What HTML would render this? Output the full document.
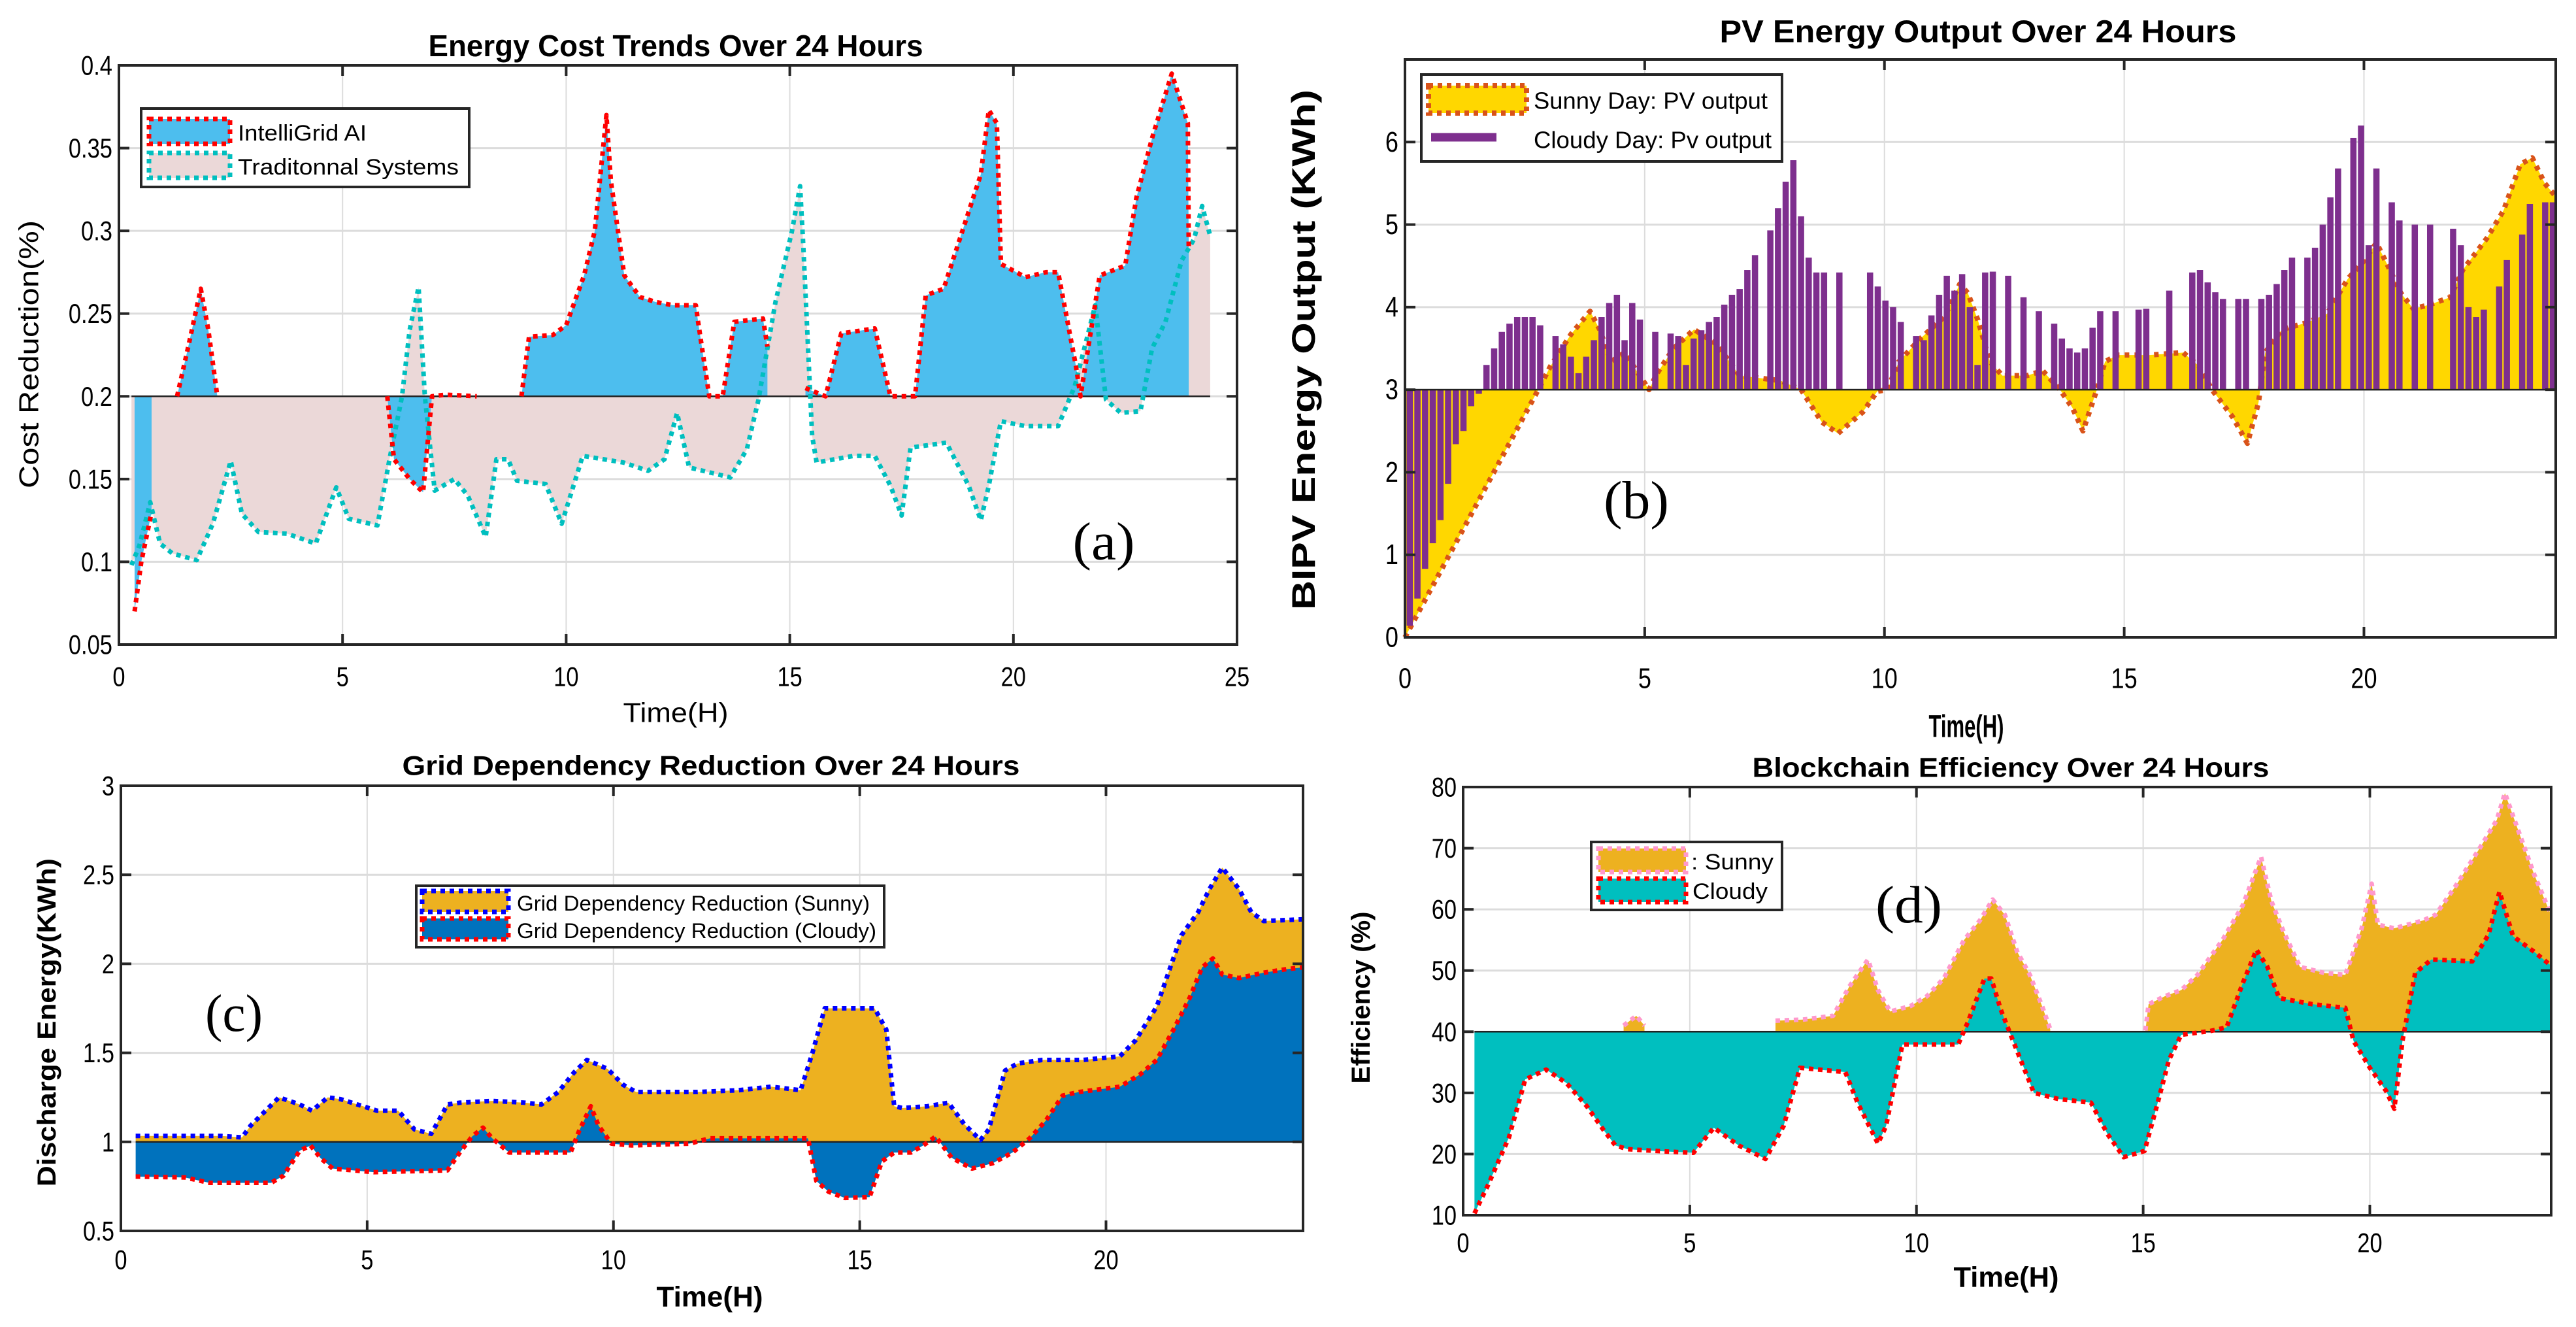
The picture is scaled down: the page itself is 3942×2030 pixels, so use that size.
<!DOCTYPE html>
<html><head><meta charset="utf-8"><style>
html,body{margin:0;padding:0;background:#fff;}
svg{display:block;}
</style></head><body>
<svg id="chart" xmlns="http://www.w3.org/2000/svg" width="3942" height="2030" viewBox="0 0 3942 2030"></svg>
<script>
// ---------- Panel (a) data (null = gap) ----------
const aiX = [0.35,0.5,0.73,1.0,1.3,1.55,1.83,2.0,2.2,4,6.0,6.15,6.5,6.8,7.0,7.3,8.0,8.5,9.0,9.17,9.7,10.0,10.4,10.64,10.9,11.0,11.3,11.65,12.0,12.4,12.9,12.95,13.2,13.5,13.76,14.4,14.5,15.0,15.35,15.8,16.15,16.9,17.25,17.8,18.04,18.44,18.8,19.27,19.45,19.63,19.72,20.27,20.73,21.0,21.4,21.5,21.93,22.5,22.75,23.1,23.54,23.9,23.92];
const aiY = [0.07,0.1,0.13,null,0.2,0.23,0.265,0.24,0.2,null,0.2,0.162,0.15,0.142,0.2,0.201,0.2,null,0.2,0.236,0.237,0.243,0.273,0.30,0.37,0.33,0.273,0.26,0.257,0.255,0.255,0.245,0.2,0.2,0.245,0.247,0.23,null,0.205,0.2,0.238,0.241,0.2,0.2,0.261,0.265,0.295,0.334,0.373,0.365,0.28,0.272,0.275,0.275,0.218,0.2,0.273,0.279,0.32,0.356,0.395,0.365,0.29];
const tradX = [0.28,0.46,0.7,0.92,1.2,1.74,2.1,2.5,2.75,3.12,3.76,4.4,4.86,5.14,5.78,6.05,6.33,6.5,6.7,6.84,7.06,7.5,7.8,8.2,8.44,8.7,8.9,9.54,9.9,10.37,11.28,11.83,12.2,12.48,12.75,13.67,14.04,14.3,14.68,15.05,15.23,15.3,15.5,15.6,16.42,16.9,17.25,17.5,17.7,18.5,19.0,19.27,19.45,19.72,20.27,21.0,21.37,21.83,22.07,22.4,22.84,23.1,23.4,23.76,24.04,24.22,24.4];
const tradY = [0.098,0.11,0.136,0.111,0.105,0.101,0.123,0.161,0.129,0.118,0.117,0.111,0.145,0.126,0.122,0.162,0.2,0.24,0.266,0.2,0.143,0.15,0.14,0.115,0.162,0.162,0.149,0.147,0.123,0.164,0.16,0.155,0.162,0.19,0.157,0.151,0.168,0.198,0.257,0.30,0.327,0.292,0.176,0.16,0.164,0.164,0.146,0.128,0.169,0.172,0.146,0.125,0.146,0.185,0.182,0.182,0.206,0.255,0.198,0.19,0.191,0.229,0.245,0.282,0.295,0.315,0.297];
const aYTicks = [0.05,0.1,0.15,0.2,0.25,0.3,0.35,0.4];
const aYLabels = ["0.05","0.1","0.15","0.2","0.25","0.3","0.35","0.4"];
const aXTicks = [0,5,10,15,20,25];
const aXLabels = ["0","5","10","15","20","25"];

// ---------- Panel (b) data ----------
const sunnyX = [0,2.78,3.03,3.46,3.86,4.06,4.3,4.58,5.09,5.26,5.6,6.03,6.5,6.98,7.83,8.26,8.69,9.03,9.55,9.85,10.06,10.3,10.75,11.26,11.57,11.74,11.95,12.2,12.46,12.97,13.3,13.66,13.92,14.14,14.43,14.6,14.86,15.54,16.23,16.57,16.83,17.26,17.57,17.8,17.94,18.29,18.8,19.23,19.66,20.0,20.26,20.5,20.77,21.03,21.37,21.8,22.06,22.57,22.91,23.26,23.51,23.77,24.0];
const sunnyY = [0,3,3.28,3.67,3.95,3.73,3.34,3.45,3,3.2,3.5,3.73,3.55,3.17,3.11,3,2.61,2.47,2.73,2.98,3,3.34,3.62,3.89,4.28,4.17,3.84,3.34,3.17,3.17,3.23,3,2.78,2.5,3,3.34,3.42,3.42,3.45,3.28,3,2.67,2.35,2.84,3.45,3.73,3.81,3.92,4.34,4.56,4.78,4.5,4.17,3.98,4.03,4.12,4.45,4.84,5.17,5.73,5.81,5.5,5.34];
const cloudyBars = [0.14,0.47,0.83,1.14,1.42,1.86,2.34,2.5,2.8,2.95,3.3,3.5,3.7,3.8,3.88,3.88,3.88,3.78,3.0,3.65,3.55,3.4,3.2,3.4,3.6,3.88,4.05,4.15,3.6,4.05,3.85,3.0,3.7,3.0,3.68,3.65,3.3,3.62,3.72,3.82,3.88,4.03,4.15,4.22,4.45,4.63,3.0,4.93,5.2,5.52,5.78,5.1,4.6,4.42,4.42,3.0,4.42,3.0,3.0,3.0,4.42,4.25,4.08,4.0,3.82,3.0,3.65,3.6,3.9,4.15,4.38,4.2,4.4,4.0,3.3,4.42,4.43,3.0,4.38,3.0,4.12,3.0,3.95,3.0,3.8,3.62,3.5,3.45,3.5,3.75,3.95,3.0,3.95,3.0,3.0,3.97,3.98,3.0,3.0,4.2,3.0,3.0,4.42,4.45,4.3,4.18,4.1,3.0,4.1,4.1,3.0,4.1,4.15,4.28,4.45,4.6,3.0,4.6,4.72,5.0,5.33,5.68,3.0,6.05,6.2,4.75,5.68,3.0,5.27,5.05,3.0,5.0,3.0,5.0,3.0,3.0,4.95,4.75,4.0,3.88,3.97,3.0,4.25,4.57,3.0,4.88,5.25,3.0,5.27,5.27];
const bYTicks = [0,1,2,3,4,5,6];
const bYLabels = ["0","1","2","3","4","5","6"];
const bXTicks = [0,5,10,15,20];
const bXLabels = ["0","5","10","15","20"];

// ---------- Panel (c) data ----------
const gSunX = [0.3,2.05,2.46,2.63,3.21,3.63,3.88,4.2,4.46,5.2,5.63,5.96,6.3,6.63,6.88,7.54,8.2,8.54,8.88,9.2,9.46,9.88,10.2,10.46,11.7,12.54,13.2,13.8,14.04,14.29,15.3,15.54,15.7,15.87,16.37,16.8,17.12,17.45,17.62,17.95,18.2,18.7,19.53,20.28,20.6,21.03,21.53,21.87,22.1,22.36,22.7,22.95,23.2,24.0];
const gSunY = [1.033,1.033,1.025,1.09,1.25,1.21,1.175,1.25,1.24,1.175,1.175,1.07,1.045,1.21,1.22,1.23,1.22,1.21,1.28,1.39,1.46,1.41,1.32,1.28,1.28,1.29,1.31,1.29,1.5,1.75,1.75,1.63,1.2,1.19,1.2,1.22,1.1,1.01,1.07,1.4,1.44,1.46,1.46,1.48,1.57,1.76,2.16,2.29,2.42,2.54,2.42,2.29,2.24,2.25];
const gCldX = [0.3,1.3,1.8,3.05,3.3,3.63,3.85,4.05,4.3,5.13,6.63,6.88,7.13,7.35,7.54,7.88,9.13,9.3,9.54,9.7,9.96,10.37,11.54,11.96,13.95,14.12,14.37,14.7,15.2,15.45,15.7,16.04,16.29,16.54,16.87,17.28,17.7,18.1,18.45,18.78,19.12,19.45,20.28,20.7,21.03,21.37,21.7,21.95,22.17,22.36,22.7,23.2,23.66,24.0];
const gCldY = [0.805,0.8,0.77,0.77,0.81,0.95,0.98,0.91,0.85,0.83,0.84,0.94,1.03,1.08,1.02,0.94,0.94,1.06,1.2,1.09,0.99,0.98,0.99,1.02,1.02,0.78,0.72,0.685,0.69,0.89,0.94,0.94,0.98,1.03,0.91,0.85,0.88,0.94,1.02,1.12,1.26,1.28,1.31,1.38,1.46,1.63,1.81,1.98,2.03,1.94,1.92,1.95,1.97,1.98];
const cYTicks = [0.5,1,1.5,2,2.5,3];
const cYLabels = ["0.5","1","1.5","2","2.5","3"];
const cXTicks = [0,5,10,15,20];
const cXLabels = ["0","5","10","15","20"];

// ---------- Panel (d) data (null = gap) ----------
const eSunX = [0.25,3.5,3.54,3.82,4.0,5.0,6.89,7.52,8.16,8.52,8.93,9.15,9.42,9.87,10.23,10.6,11.05,11.4,11.68,11.95,12.22,12.5,12.77,12.95,14.0,15.05,15.12,15.48,15.84,16.2,16.75,17.2,17.6,17.83,18.1,18.46,19.0,19.46,19.82,20.04,20.18,20.54,21.18,21.45,21.9,22.44,22.8,22.98,23.25,23.62,23.98];
const eSunY = [null,null,41,42.6,41,null,41.8,42,42.6,47.4,51.8,46.8,43.3,44.2,45.8,48.7,55,58.2,61.6,59.1,53.1,49.3,44.2,40.4,null,40.2,44.5,45.8,46.8,49.3,55,60.7,68.6,61.3,56.3,50.6,49.6,49.3,56.9,64.2,57.5,56.9,58.2,59.1,63.9,70.2,74.6,79,73.4,65.8,59.4];
const eCldX = [0.25,0.56,1.01,1.37,1.83,2.28,2.73,3.09,3.36,3.63,4.27,5.08,5.53,6.08,6.67,7.07,7.43,8.43,8.7,9.15,9.33,9.69,10.05,10.92,11.14,11.5,11.65,11.86,12.13,12.59,13.13,13.85,14.21,14.57,15.03,15.3,15.57,15.84,16.47,16.84,17.2,17.5,17.74,18.0,18.73,19.46,19.64,20.0,20.36,20.54,20.72,21.0,21.36,22.26,22.62,22.86,23.16,23.62,23.98];
const eCldY = [10.3,15.1,22.7,32.2,33.8,31.6,27.8,24,21.4,20.8,20.5,20.2,24.3,21.4,19.2,24.6,34.1,33.4,28.4,21.7,24.6,37.9,37.9,37.9,41.7,48.7,48.7,43.6,38.5,30,29,28.4,23.3,19.5,20.5,27.8,35.4,39.5,40.1,40.7,48,53.4,50.6,45.5,44.5,43.9,38.5,34.1,30.3,27.4,38.5,49.6,51.8,51.5,55.9,62.9,55.6,53.1,50.9];
const dYTicks = [10,20,30,40,50,60,70,80];
const dYLabels = ["10","20","30","40","50","60","70","80"];
const dXTicks = [0,5,10,15,20];
const dXLabels = ["0","5","10","15","20"];

// ---------- drawing helpers ----------
const NS = 'http://www.w3.org/2000/svg';
const svg = document.getElementById('chart');
const NARROW = '"Liberation Sans Narrow","Liberation Sans",sans-serif';
const WIDE = '"Liberation Sans",sans-serif';
function mk(tag, attrs, parent) {
  const e = document.createElementNS(NS, tag);
  for (const k in attrs) e.setAttribute(k, attrs[k]);
  (parent || svg).appendChild(e);
  return e;
}
function txt(parent, str, x, y, fs, opt) {
  opt = opt || {};
  const t = mk('text', {x: x, y: y, 'font-size': fs, 'font-family': opt.family || NARROW,
    'font-weight': opt.bold ? 'bold' : 'normal', 'text-anchor': opt.anchor || 'middle',
    'dominant-baseline': 'central', fill: '#000'}, parent);
  if (opt.len) { t.setAttribute('textLength', opt.len); t.setAttribute('lengthAdjust', 'spacingAndGlyphs'); }
  if (opt.rot) t.setAttribute('transform', 'rotate(-90 ' + x + ' ' + y + ')');
  t.textContent = str;
  return t;
}
function tickLen(s, fs) { let w = 0; for (const c of s) w += (c === '.' ? 0.23 : 0.456) * fs; return w; }
function scale(d0, d1, r0, r1) { return v => r0 + (v - d0) * (r1 - r0) / (d1 - d0); }
function segments(xs, ys) {
  const segs = []; let cur = [];
  xs.forEach((x, i) => {
    if (ys[i] === null) { if (cur.length) segs.push(cur); cur = []; }
    else cur.push([x, ys[i]]);
  });
  if (cur.length) segs.push(cur);
  return segs;
}

function axes(g, P) {
  const sx = scale(P.x0, P.x1, P.L, P.R), sy = scale(P.y0, P.y1, P.B, P.T);
  const bg = mk('rect', {x: P.L, y: P.T, width: P.R - P.L, height: P.B - P.T, fill: '#fff'}, g);
  
  
  P.xt.forEach((v, i) => {
    const gl = mk('line', {x1: sx(v), x2: sx(v), y1: P.T, y2: P.B, stroke: '#dcdcdc', 'stroke-width': 2}, g);
    
    
  });
  P.yt.forEach((v, i) => {
    const gl = mk('line', {x1: P.L, x2: P.R, y1: sy(v), y2: sy(v), stroke: '#dcdcdc', 'stroke-width': 3}, g);
    
    
  });
  return {sx, sy};
}
function frame(g, P, sx, sy) {
  const fr = mk('rect', {x: P.L, y: P.T, width: P.R - P.L, height: P.B - P.T, fill: 'none', stroke: '#262626', 'stroke-width': 4}, g);
  
  
  P.xt.forEach((v, i) => {
    mk('line', {x1: sx(v), x2: sx(v), y1: P.B, y2: P.B - 16, stroke: '#262626', 'stroke-width': 4}, g);
    mk('line', {x1: sx(v), x2: sx(v), y1: P.T, y2: P.T + 16, stroke: '#262626', 'stroke-width': 4}, g);
    const t = txt(g, P.xl[i], sx(v), P.B + P.xlOff, P.tfs, {len: tickLen(P.xl[i], P.tfs)});
    
    
  });
  P.yt.forEach((v, i) => {
    mk('line', {x1: P.L, x2: P.L + 16, y1: sy(v), y2: sy(v), stroke: '#262626', 'stroke-width': 4}, g);
    mk('line', {x1: P.R, x2: P.R - 16, y1: sy(v), y2: sy(v), stroke: '#262626', 'stroke-width': 4}, g);
    const t = txt(g, P.yl[i], P.L - 10, sy(v), P.tfs, {anchor: 'end', len: tickLen(P.yl[i], P.tfs)});
    
    
  });
}
function area(g, xs, ys, base, sx, sy, fill, name) {
  segments(xs, ys).forEach(seg => {
    let pts = sx(seg[0][0]) + ',' + sy(base) + ' ';
    seg.forEach(p => { pts += sx(p[0]) + ',' + sy(p[1]) + ' '; });
    pts += sx(seg[seg.length - 1][0]) + ',' + sy(base);
    const p = mk('polygon', {points: pts, fill: fill, stroke: 'none'}, g);
    
    
  });
}
function line(g, xs, ys, sx, sy, color, w, dash, name) {
  segments(xs, ys).forEach(seg => {
    const pts = seg.map(p => sx(p[0]) + ',' + sy(p[1])).join(' ');
    const p = mk('polyline', {points: pts, fill: 'none', stroke: color, 'stroke-width': w, 'stroke-dasharray': dash, 'stroke-linejoin': 'round'}, g);
    
    
  });
}
function hline(g, x0, x1, y, name) {
  const l = mk('line', {x1: x0, x2: x1, y1: y, y2: y, stroke: '#222', 'stroke-width': 2.5}, g);
  
  
}
function legendBox(g, x, y, w, h, name) {
  const r = mk('rect', {x: x, y: y, width: w, height: h, fill: '#fff', stroke: '#262626', 'stroke-width': 4}, g);
  
  
}
function swatch(g, x, y, w, h, fill, stroke, dash, sw, name) {
  const r = mk('rect', {x: x, y: y, width: w, height: h, fill: fill, stroke: stroke, 'stroke-width': sw, 'stroke-dasharray': dash}, g);
  
  
}

// ================= Panel (a) =================
{
  const g = mk('g', {});
  
  
  const P = {name: 'panel-a', L: 182, R: 1893, T: 100, B: 986, x0: 0, x1: 25, y0: 0.05, y1: 0.4,
    xt: aXTicks, xl: aXLabels, yt: aYTicks, yl: aYLabels, tfs: 42, xlOff: 49};
  const {sx, sy} = axes(g, P);
  area(g, tradX, tradY, 0.2, sx, sy, '#EBD8D8', 'traditional-systems-area');
  area(g, aiX, aiY, 0.2, sx, sy, '#4DBEEE', 'intelligrid-ai-area');
  hline(g, sx(0.28), sx(24.4), sy(0.2), 'baseline-0.2');
  line(g, tradX, tradY, sx, sy, '#00BFBF', 7, '7 7', 'traditional-systems-line');
  line(g, aiX, aiY, sx, sy, '#FF0000', 7, '7 7', 'intelligrid-ai-line');
  frame(g, P, sx, sy);
  let t = txt(g, 'Energy Cost Trends Over 24 Hours', 1034, 70, 46, {bold: true, len: 757});
   
  t = txt(g, 'Cost Reduction(%)', 44, 542, 42, {family: WIDE, rot: true, len: 410});
   
  t = txt(g, 'Time(H)', 1034, 1090, 42, {len: 161});
   
  t = txt(g, '(a)', 1689, 828, 82, {family: '"Liberation Serif",serif', len: 95});
   
  legendBox(g, 216, 166, 502, 120, 'legend-a');
  swatch(g, 228, 182, 124, 38, '#4DBEEE', '#FF0000', '7 7', 7, 'legend-swatch-intelligrid');
  swatch(g, 228, 234, 124, 38, '#EBD8D8', '#00BFBF', '7 7', 7, 'legend-swatch-traditional');
  t = txt(g, 'IntelliGrid AI', 364, 204, 34, {anchor: 'start', len: 197});
   
  t = txt(g, 'Traditonnal Systems', 364, 256, 34, {anchor: 'start', len: 338});
   
}

// ================= Panel (b) =================
{
  const g = mk('g', {});
  
  
  const P = {name: 'panel-b', L: 2150, R: 3911, T: 91, B: 975, x0: 0, x1: 24, y0: 0, y1: 7,
    xt: bXTicks, xl: bXLabels, yt: bYTicks, yl: bYLabels, tfs: 44, xlOff: 63};
  const {sx, sy} = axes(g, P);
  area(g, sunnyX, sunnyY, 3, sx, sy, '#FFD700', 'sunny-area');
  line(g, sunnyX, sunnyY, sx, sy, '#D95319', 8, '7 8', 'sunny-line');
  const bw = 0.13;
  cloudyBars.forEach((v, i) => {
    const xc = 0.1 + 0.16 * i;
    const y1 = sy(Math.max(v, 3)), y2 = sy(Math.min(v, 3));
    const r = mk('rect', {x: sx(xc - bw / 2), y: y1, width: sx(bw) - sx(0), height: Math.max(0.5, y2 - y1), fill: '#7E2F8E'}, g);
    
    
  });
  hline(g, P.L, P.R, sy(3), 'baseline-3');
  frame(g, P, sx, sy);
  let t = txt(g, 'PV Energy Output Over 24 Hours', 3027, 49, 48, {bold: true, len: 791});
   
  t = txt(g, 'BIPV Energy Output (KWh)', 1995, 535, 50, {family: WIDE, bold: true, rot: true, len: 796});
   
  t = txt(g, 'Time(H)', 3009, 1112, 48, {bold: true, len: 115});
   
  t = txt(g, '(b)', 2504, 765, 82, {family: '"Liberation Serif",serif', len: 100});
   
  legendBox(g, 2175, 114, 552, 133, 'legend-b');
  swatch(g, 2186, 131, 150, 42, '#FFD700', '#D95319', '7 7', 8, 'legend-swatch-sunny');
  const ls = mk('line', {x1: 2190, x2: 2290, y1: 210, y2: 210, stroke: '#7E2F8E', 'stroke-width': 13}, g);
  
  
  t = txt(g, 'Sunny Day: PV output', 2347, 154, 36, {anchor: 'start', len: 358, bold: false});
   
  t = txt(g, 'Cloudy Day: Pv output', 2347, 214, 36, {anchor: 'start', len: 364});
   
}

// ================= Panel (c) =================
{
  const g = mk('g', {});
  
  
  const P = {name: 'panel-c', L: 185, R: 1994, T: 1202, B: 1883, x0: 0, x1: 24, y0: 0.5, y1: 3,
    xt: cXTicks, xl: cXLabels, yt: cYTicks, yl: cYLabels, tfs: 42, xlOff: 44};
  const {sx, sy} = axes(g, P);
  area(g, gSunX, gSunY, 1, sx, sy, '#EDB120', 'sunny-reduction-area');
  area(g, gCldX, gCldY, 1, sx, sy, '#0072BD', 'cloudy-reduction-area');
  hline(g, sx(0.3), sx(24), sy(1), 'baseline-1');
  line(g, gSunX, gSunY, sx, sy, '#0000FF', 7, '7 7', 'sunny-reduction-line');
  line(g, gCldX, gCldY, sx, sy, '#FF0000', 7, '7 7', 'cloudy-reduction-line');
  frame(g, P, sx, sy);
  let t = txt(g, 'Grid Dependency Reduction Over 24 Hours', 1088, 1171, 42, {bold: true, len: 945});
   
  t = txt(g, 'Discharge Energy(KWh)', 72, 1564, 40, {family: WIDE, bold: true, rot: true, len: 502});
   
  t = txt(g, 'Time(H)', 1086, 1984, 44, {bold: true, len: 163});
   
  t = txt(g, '(c)', 358, 1551, 80, {family: '"Liberation Serif",serif', len: 88});
   
  legendBox(g, 637, 1355, 716, 94, 'legend-c');
  swatch(g, 646, 1363, 132, 32, '#EDB120', '#0000FF', '7 7', 7, 'legend-swatch-sunny');
  swatch(g, 646, 1405, 132, 32, '#0072BD', '#FF0000', '7 7', 7, 'legend-swatch-cloudy');
  t = txt(g, 'Grid Dependency Reduction (Sunny)', 791, 1382, 32, {anchor: 'start', len: 540});
   
  t = txt(g, 'Grid Dependency Reduction (Cloudy)', 791, 1424, 32, {anchor: 'start', len: 550});
   
}

// ================= Panel (d) =================
{
  const g = mk('g', {});
  
  
  const P = {name: 'panel-d', L: 2239, R: 3904, T: 1204, B: 1859, x0: 0, x1: 24, y0: 10, y1: 80,
    xt: dXTicks, xl: dXLabels, yt: dYTicks, yl: dYLabels, tfs: 42, xlOff: 42};
  const {sx, sy} = axes(g, P);
  area(g, eSunX, eSunY, 40, sx, sy, '#EDB120', 'sunny-efficiency-area');
  area(g, eCldX, eCldY, 40, sx, sy, '#00BFBF', 'cloudy-efficiency-area');
  hline(g, sx(0.25), sx(24), sy(40), 'baseline-40');
  line(g, eSunX, eSunY, sx, sy, '#FF99CC', 7, '7 7', 'sunny-efficiency-line');
  line(g, eCldX, eCldY, sx, sy, '#FF0000', 7, '7 7', 'cloudy-efficiency-line');
  frame(g, P, sx, sy);
  let t = txt(g, 'Blockchain Efficiency Over 24 Hours', 3077, 1174, 42, {bold: true, len: 791});
   
  t = txt(g, 'Efficiency (%)', 2083, 1526, 40, {family: WIDE, bold: true, rot: true, len: 263});
   
  t = txt(g, 'Time(H)', 3070, 1954, 44, {bold: true, len: 161});
   
  t = txt(g, '(d)', 2921, 1385, 80, {family: '"Liberation Serif",serif', len: 102});
   
  legendBox(g, 2435, 1288, 292, 104, 'legend-d');
  swatch(g, 2446, 1298, 134, 36, '#EDB120', '#FF99CC', '7 7', 7, 'legend-swatch-sunny');
  swatch(g, 2446, 1344, 134, 36, '#00BFBF', '#FF0000', '7 7', 7, 'legend-swatch-cloudy');
  t = txt(g, ': Sunny', 2588, 1319, 34, {anchor: 'start', len: 126});
   
  t = txt(g, 'Cloudy', 2590, 1364, 34, {anchor: 'start', len: 115});
   
}
</script>
</body></html>
